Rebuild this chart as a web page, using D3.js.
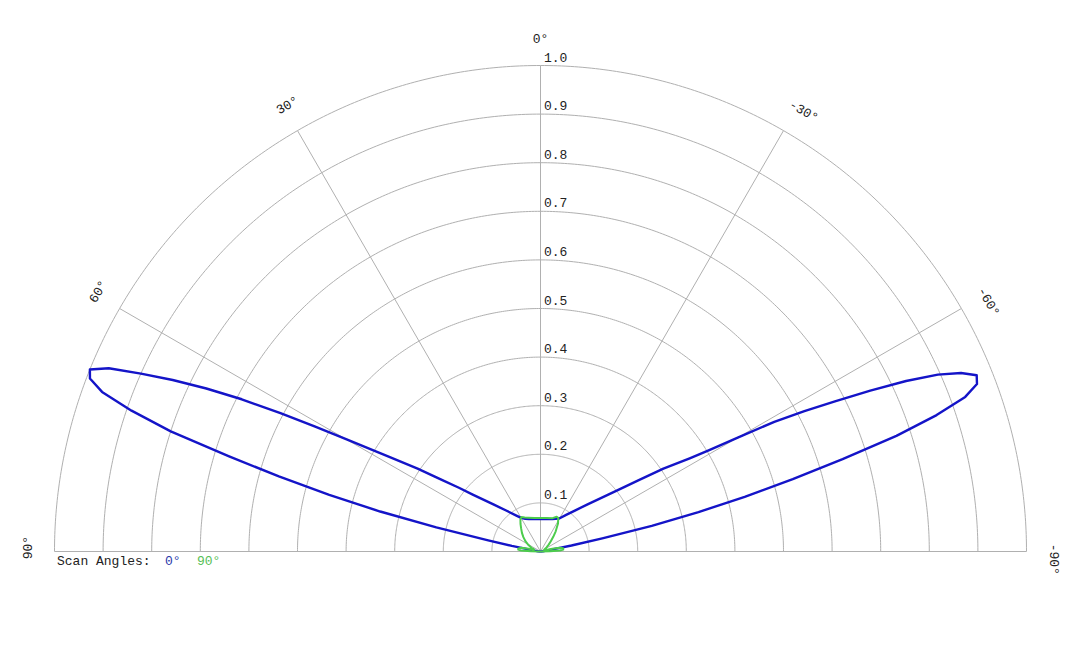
<!DOCTYPE html>
<html>
<head>
<meta charset="utf-8">
<script src="https://cdn.jsdelivr.net/npm/d3@7"></script>
<style>
  html, body { margin: 0; padding: 0; background: #fff; }
  svg { display: block; }
  text { font-family: "Liberation Mono", "Courier New", monospace; font-size: 13px; fill: #222; }
</style>
</head>
<body>
<svg id="chart" width="1080" height="648"></svg>
<script>
// ---- data ----
const ringValues = [0.1, 0.2, 0.3, 0.4, 0.5, 0.6, 0.7, 0.8, 0.9, 1.0];
const ringLabels = ["0.1", "0.2", "0.3", "0.4", "0.5", "0.6", "0.7", "0.8", "0.9", "1.0"];
const spokeAngles = [-90, -60, -30, 0, 30, 60, 90];
const spokeLabels = ["-90°", "-60°", "-30°", "0°", "30°", "60°", "90°"];

const seriesNames = ["0°", "90°"];
const seriesColors = ["#1414c8", "#4ccc4c"];
const legendColors = ["#2a3aaa", "#55c055"];

// Scan angle 0° (blue)
const scan0Angles = [-90, -86, -82, -80, -79, -78, -77, -76, -75, -74, -73, -72, -71, -70, -69, -68, -67, -66, -65, -64,
  -63, -62, -61, -60, -59, -58, -56, -54, -52, -50, -45, -40, -35, -30, -25, -20, -10, 0, 10, 20, 25, 30, 35, 40, 45,
  50, 52, 54, 56, 58, 60, 61, 62, 63, 64, 65, 66, 67, 68, 69, 70, 71, 72, 73, 74, 75, 76, 77, 78, 79, 80, 82, 86, 90];
const scan0Values = [0, 0.005, 0.01, 0.025, 0.065, 0.13, 0.235, 0.335, 0.435, 0.54, 0.65, 0.77, 0.862, 0.93, 0.962, 0.968, 0.94, 0.895, 0.83, 0.755,
  0.68, 0.615, 0.55, 0.47, 0.405, 0.362, 0.305, 0.25, 0.21, 0.182, 0.137, 0.11, 0.092, 0.079, 0.074, 0.071, 0.068, 0.067, 0.068, 0.071, 0.074, 0.080, 0.092, 0.11, 0.137,
  0.182, 0.213, 0.251, 0.305, 0.367, 0.462, 0.53, 0.606, 0.69, 0.765, 0.835, 0.90, 0.965, 1.0, 0.993, 0.96, 0.89, 0.80, 0.67, 0.56, 0.45, 0.34, 0.22, 0.11, 0.06, 0.025, 0.01, 0.005, 0];

// Scan angle 90° (green)
const scan90Angles = [-90, -89, -87, -85, -82, -79, -77, -74, -70, -63, -56, -50, -45, -41, -37, -32, -28, -25, -20, -10, 0,
  10, 20, 25, 29, 32, 36, 40, 45, 50, 56, 62, 68, 72, 75, 77, 79, 82, 85, 87, 89, 90];
const scan90Values = [0, 0.02, 0.04, 0.047, 0.047, 0.04, 0.025, 0.012, 0.008, 0.009, 0.015, 0.022, 0.03, 0.04, 0.052, 0.068, 0.078, 0.079, 0.073, 0.07, 0.069,
  0.07, 0.074, 0.077, 0.081, 0.078, 0.07, 0.062, 0.054, 0.046, 0.037, 0.028, 0.02, 0.014, 0.014, 0.025, 0.04, 0.046, 0.046, 0.04, 0.02, 0];

// ---- layout ----
const cx = 540.5, cy = 551.5, R = 486;
const svg = d3.select("#chart");
const g = svg.append("g").attr("transform", `translate(${cx},${cy})`);

const rScale = d3.scaleLinear().domain([0, 1]).range([0, R]);
// positive angles to the left, 0 at top
const aScale = d3.scaleLinear().domain([-90, 90]).range([Math.PI / 2, -Math.PI / 2]);

const gridColor = "#b0b0b0";

// rings
g.selectAll("path.ring").data(ringValues).join("path")
  .attr("class", "ring")
  .attr("d", d => d3.lineRadial()
      .angle(a => aScale(a)).radius(rScale(d))(d3.range(-90, 90.5, 0.5)))
  .attr("fill", "none").attr("stroke", gridColor).attr("stroke-width", 1);

// spokes
g.selectAll("line.spoke").data(spokeAngles).join("line")
  .attr("class", "spoke")
  .attr("x1", 0).attr("y1", 0)
  .attr("x2", d => rScale(1) * Math.sin(aScale(d)))
  .attr("y2", d => -rScale(1) * Math.cos(aScale(d)))
  .attr("stroke", gridColor).attr("stroke-width", 1);

// ring labels
g.selectAll("text.rl").data(ringValues).join("text")
  .attr("class", "rl")
  .attr("x", 3.5)
  .attr("y", d => -rScale(d) - 4)
  .text((d, i) => ringLabels[i]);

// spoke labels
const labelR = R + 23;
g.selectAll("text.sl").data(spokeAngles).join("text")
  .attr("class", "sl")
  .attr("transform", d => {
    const a = aScale(d);
    const x = labelR * Math.sin(a), y = -labelR * Math.cos(a);
    return `translate(${x},${y}) rotate(${a * 180 / Math.PI})`;
  })
  .attr("x", -7.8)
  .attr("text-anchor", "start")
  .text((d, i) => spokeLabels[i]);

// series
const series = [
  { angles: scan0Angles, values: scan0Values },
  { angles: scan90Angles, values: scan90Values }
];
const line = d3.lineRadial()
  .angle(d => aScale(d[0]))
  .radius(d => rScale(d[1]));
series.forEach((s, i) => {
  const pts = s.angles.map((a, j) => [a, s.values[j]]);
  g.append("path")
    .attr("d", line(pts))
    .attr("fill", "none")
    .attr("stroke", seriesColors[i])
    .attr("stroke-width", i === 0 ? 2.4 : 2)
    .attr("stroke-linejoin", "round");
});

// legend
svg.append("text").attr("x", 57).attr("y", 565).text("Scan Angles:");
const legendX = [165, 197];
seriesNames.forEach((n, i) => {
  svg.append("text").attr("x", legendX[i]).attr("y", 565)
    .style("fill", legendColors[i]).text(n);
});
</script>
</body>
</html>
